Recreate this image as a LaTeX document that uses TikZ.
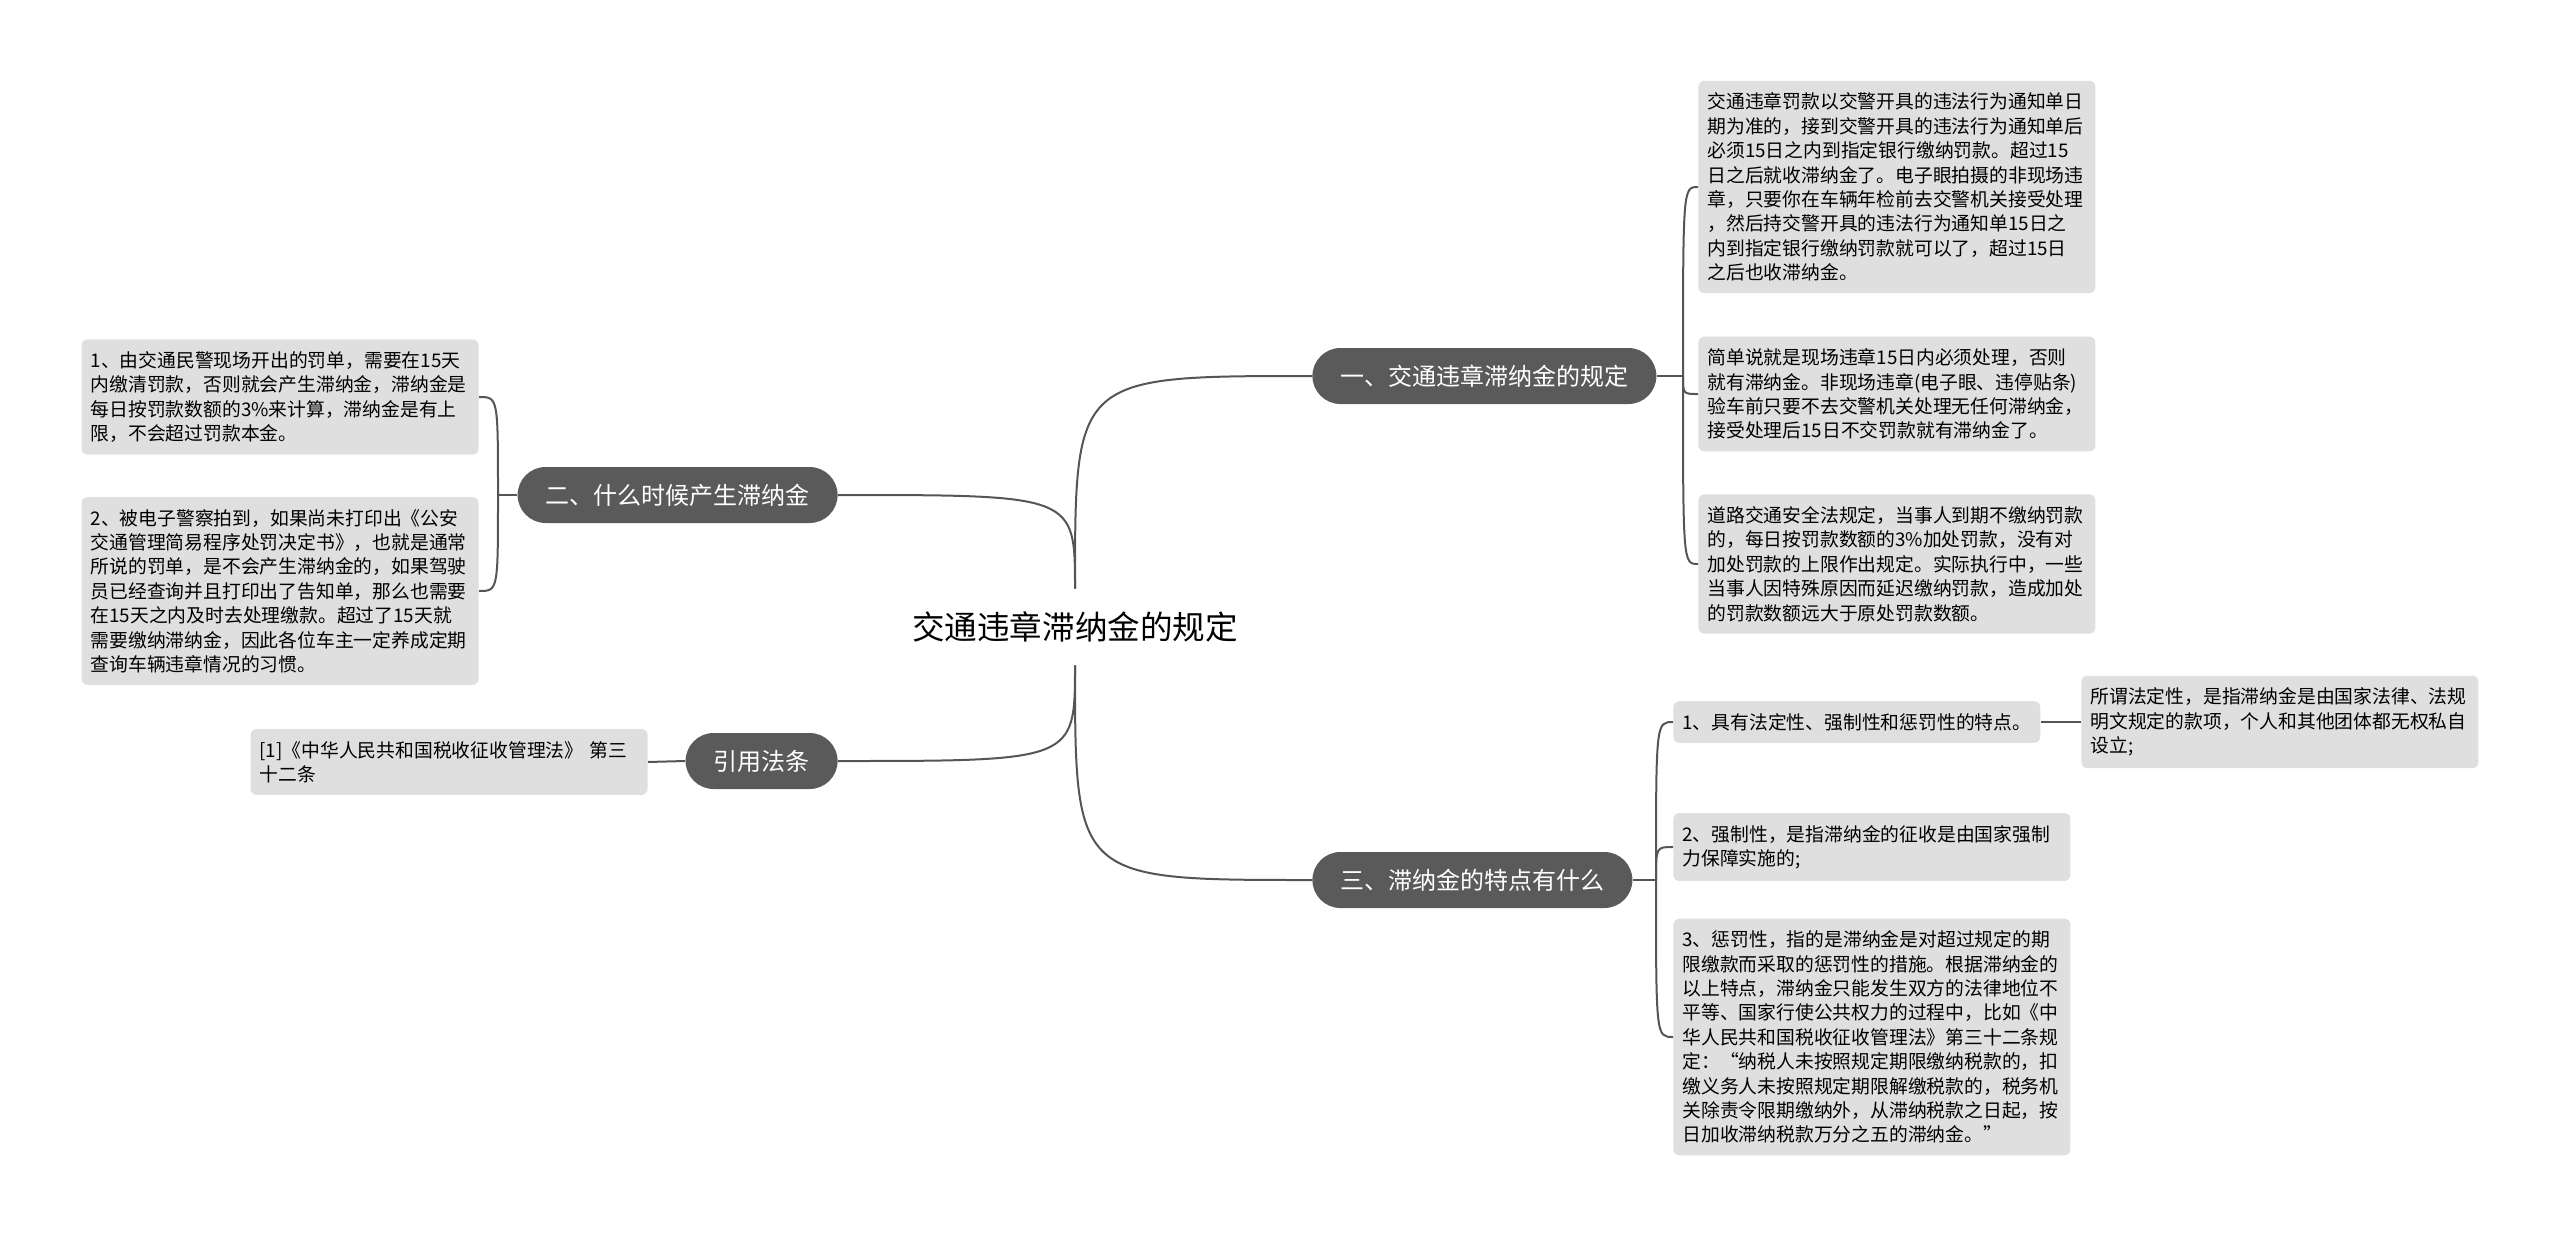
\documentclass[tikz,border=0pt]{standalone}
\usepackage{fontspec}
\setmainfont{Noto Sans CJK SC}
\usetikzlibrary{calc}
\definecolor{topicgray}{HTML}{5A5A5A}
\definecolor{notegray}{HTML}{DFDFDF}
\definecolor{linegray}{HTML}{555555}

\begin{document}
\begin{tikzpicture}[x=0.5pt, y=-0.5pt,
  every node/.style={inner sep=0pt},
  root/.style={font=\fontsize{16.3pt}{20pt}\selectfont, minimum height=38pt},
  topic/.style={rounded corners=14pt, fill=topicgray, text=white,
    font=\fontsize{12pt}{14pt}\selectfont, minimum height=28pt, inner xsep=14pt},
  note/.style={rounded corners=3pt, fill=notegray, align=left,
    font=\fontsize{9.4pt}{12.2pt}\selectfont, inner xsep=4.5pt, inner ysep=6pt},
  wide/.style={note, text width=189.5pt},
  link/.style={draw=linegray, line width=1pt}]
  \useasboundingbox (0,0) rectangle (2560,1237);

  \node[root] (c) at (1075,627) {交通违章滞纳金的规定};

  \node[topic, anchor=west] (b1) at (1312,376) {一、交通违章滞纳金的规定};
  \node[topic, anchor=east] (b2) at (838,495) {二、什么时候产生滞纳金};
  \node[topic, anchor=west] (b3) at (1312,880) {三、滞纳金的特点有什么};
  \node[topic, anchor=east] (b4) at (838,761) {引用法条};

  \coordinate (t1) at (1683,376);
  \coordinate (t2) at (498,495);
  \coordinate (t3) at (1656,880);

  \node[wide, anchor=west] (l11) at (1698,187) {交通违章罚款以交警开具的违法行为通知单日\\
    期为准的，接到交警开具的违法行为通知单后\\
    必须15日之内到指定银行缴纳罚款。超过15\\
    日之后就收滞纳金了。电子眼拍摄的非现场违\\
    章，只要你在车辆年检前去交警机关接受处理\\
    ，然后持交警开具的违法行为通知单15日之\\
    内到指定银行缴纳罚款就可以了，超过15日\\
    之后也收滞纳金。};
  \node[wide, anchor=west] (l12) at (1698,394) {简单说就是现场违章15日内必须处理，否则\\
    就有滞纳金。非现场违章(电子眼、违停贴条)\\
    验车前只要不去交警机关处理无任何滞纳金，\\
    接受处理后15日不交罚款就有滞纳金了。};
  \node[wide, anchor=west] (l13) at (1698,564) {道路交通安全法规定，当事人到期不缴纳罚款\\
    的，每日按罚款数额的3\%加处罚款，没有对\\
    加处罚款的上限作出规定。实际执行中，一些\\
    当事人因特殊原因而延迟缴纳罚款，造成加处\\
    的罚款数额远大于原处罚款数额。};

  \node[wide, anchor=east] (l21) at (479,397) {1、由交通民警现场开出的罚单，需要在15天\\
    内缴清罚款，否则就会产生滞纳金，滞纳金是\\
    每日按罚款数额的3\%来计算，滞纳金是有上\\
    限，不会超过罚款本金。};
  \node[wide, anchor=east] (l22) at (479,591) {2、被电子警察拍到，如果尚未打印出《公安\\
    交通管理简易程序处罚决定书》，也就是通常\\
    所说的罚单，是不会产生滞纳金的，如果驾驶\\
    员已经查询并且打印出了告知单，那么也需要\\
    在15天之内及时去处理缴款。超过了15天就\\
    需要缴纳滞纳金，因此各位车主一定养成定期\\
    查询车辆违章情况的习惯。};

  \node[wide, anchor=east] (l4) at (648,762) {[1]《中华人民共和国税收征收管理法》 第三\\
    十二条};

  \node[note, anchor=west] (l31) at (1673,722) {1、具有法定性、强制性和惩罚性的特点。};
  \node[wide, anchor=west] (l311) at (2081,722) {所谓法定性，是指滞纳金是由国家法律、法规\\
    明文规定的款项，个人和其他团体都无权私自\\
    设立;};
  \node[wide, anchor=west] (l32) at (1673,847) {2、强制性，是指滞纳金的征收是由国家强制\\
    力保障实施的;};
  \node[wide, anchor=west] (l33) at (1673,1037) {3、惩罚性，指的是滞纳金是对超过规定的期\\
    限缴款而采取的惩罚性的措施。根据滞纳金的\\
    以上特点，滞纳金只能发生双方的法律地位不\\
    平等、国家行使公共权力的过程中，比如《中\\
    华人民共和国税收征收管理法》第三十二条规\\
    定：“纳税人未按照规定期限缴纳税款的，扣\\
    缴义务人未按照规定期限解缴税款的，税务机\\
    关除责令限期缴纳外，从滞纳税款之日起，按\\
    日加收滞纳税款万分之五的滞纳金。”};

  % main branches
  \draw[link] (c.north) .. controls (c.north |- b1.west) .. (b1.west);
  \draw[link] (c.north) .. controls (c.north |- b2.east) .. (b2.east);
  \draw[link] (c.south) .. controls (c.south |- b3.west) .. (b3.west);
  \draw[link] (c.south) .. controls (c.south |- b4.east) .. (b4.east);

  % sub topics
  \draw[link] (b1.east) -- (t1);
  \foreach \n in {l11,l12,l13}
    \draw[link] (t1) .. controls (t1 |- \n.west) .. (\n.west);
  \draw[link] (b2.west) -- (t2);
  \foreach \n in {l21,l22}
    \draw[link] (t2) .. controls (t2 |- \n.east) .. (\n.east);
  \draw[link] (b3.east) -- (t3);
  \foreach \n in {l31,l32,l33}
    \draw[link] (t3) .. controls (t3 |- \n.west) .. (\n.west);
  \draw[link] (b4.west) -- (l4.east);
  \draw[link] (l31.east) -- (l311.west);

\end{tikzpicture}
\end{document}
